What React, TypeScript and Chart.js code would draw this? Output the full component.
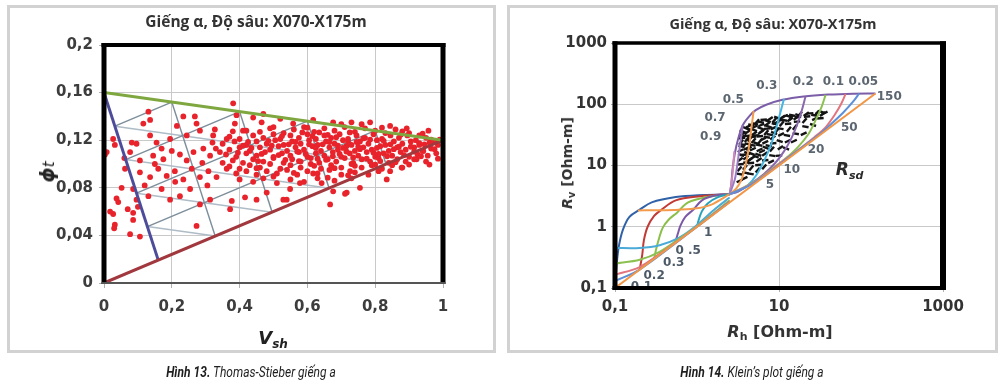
import React, { useEffect, useRef } from "react";
import { Chart, registerables } from "chart.js";

Chart.register(...registerables);

// ---------------- Thomas-Stieber (Hình 13) data ----------------
const tsXTicks = [0, 0.2, 0.4, 0.6, 0.8, 1];
const tsYTicks = [0, 0.04, 0.08, 0.12, 0.16, 0.2];

const laminarLine: [number, number][] = [[0, 0.16], [1, 0.12]];
const structuralLine: [number, number][] = [[0, 0], [1, 0.12]];
const dispersedLine: [number, number][] = [[0, 0.16], [0.16, 0.0192]];

const meshTop: [number, number][] = [[0.2, 0.152], [0.4, 0.144], [0.6, 0.136], [0.8, 0.128]];
const meshLeft: [number, number][] = [[0.032, 0.1318], [0.064, 0.1037], [0.096, 0.0755], [0.128, 0.0474]];
const meshBottom: [number, number][] = [[0.328, 0.0394], [0.496, 0.0595], [0.664, 0.0797], [0.832, 0.0998]];

const sparseSamples: [number, number][] = [
  [0.131, 0.144], [0.381, 0.151], [0.234, 0.14], [0.268, 0.14], [0.273, 0.134], [0.116, 0.134], [0.136, 0.137],
  [0.391, 0.141], [0.386, 0.134], [0.47, 0.142], [0.465, 0.135], [0.003, 0.108], [0.027, 0.121], [0.032, 0.116],
  [0.082, 0.118], [0.096, 0.117], [0.136, 0.124], [0.155, 0.118], [0.195, 0.121], [0.244, 0.124], [0.283, 0.128],
  [0.322, 0.124], [0.362, 0.121], [0.327, 0.129], [0.077, 0.11], [0.106, 0.103], [0.145, 0.107], [0.15, 0.1],
  [0.175, 0.104], [0.2, 0.111], [0.224, 0.108], [0.244, 0.103], [0.264, 0.11], [0.293, 0.113], [0.313, 0.107],
  [0.342, 0.11], [0.062, 0.096], [0.106, 0.093], [0.136, 0.089], [0.16, 0.096], [0.185, 0.09], [0.209, 0.094],
  [0.234, 0.087], [0.259, 0.096], [0.283, 0.089], [0.308, 0.094], [0.332, 0.089], [0.362, 0.096], [0.052, 0.08],
  [0.086, 0.079], [0.096, 0.07], [0.131, 0.073], [0.17, 0.079], [0.195, 0.07], [0.224, 0.073], [0.254, 0.079],
  [0.283, 0.066], [0.313, 0.07], [0.377, 0.069], [0.416, 0.072], [0.45, 0.07], [0.042, 0.068], [0.027, 0.058],
  [0.086, 0.059], [0.032, 0.049], [0.086, 0.053], [0.077, 0.041], [0.106, 0.039], [0.273, 0.048], [0.037, 0.071],
  [0.018, 0.06], [0.03, 0.046], [0.008, 0.11], [0.07, 0.062], [0.1, 0.064], [0.12, 0.082], [0.21, 0.085],
  [0.29, 0.101], [0.17, 0.113], [0.06, 0.105], [0.215, 0.132], [0.32, 0.118], [0.35, 0.101], [0.305, 0.082],
];

const edgeSamples: [number, number][] = [
  [0.667, 0.066], [0.539, 0.07], [0.48, 0.076], [0.372, 0.062], [0.834, 0.087], [0.716, 0.076], [0.755, 0.08],
  [0.676, 0.077], [0.711, 0.075], [0.642, 0.084], [0.617, 0.092], [0.578, 0.084], [0.549, 0.079], [0.529, 0.07],
  [0.922, 0.104], [0.942, 0.111], [0.878, 0.097], [0.844, 0.094], [0.726, 0.094],
  [0.617, 0.137], [0.676, 0.135], [0.73, 0.135], [0.785, 0.135], [0.844, 0.132], [0.893, 0.13], [0.957, 0.128],
  [0.558, 0.134], [0.52, 0.138], [0.5, 0.131], [0.44, 0.139], [0.41, 0.128],
];

const coreSamples: [number, number][] = [
  [0.42, 0.128], [0.46, 0.127], [0.49, 0.13], [0.53, 0.126], [0.56, 0.129], [0.59, 0.131], [0.62, 0.127],
  [0.65, 0.13], [0.68, 0.128], [0.71, 0.131], [0.74, 0.127], [0.77, 0.13], [0.8, 0.128], [0.83, 0.126],
  [0.86, 0.129], [0.9, 0.126], [0.93, 0.124],
  [0.37, 0.123], [0.4, 0.121], [0.44, 0.124], [0.47, 0.122], [0.5, 0.125], [0.52, 0.121], [0.55, 0.124],
  [0.575, 0.122], [0.6, 0.125], [0.625, 0.121], [0.65, 0.124], [0.67, 0.122], [0.695, 0.125], [0.72, 0.121],
  [0.745, 0.124], [0.77, 0.122], [0.795, 0.125], [0.82, 0.121], [0.845, 0.124], [0.87, 0.122], [0.895, 0.124],
  [0.92, 0.12], [0.95, 0.122], [0.975, 0.119],
  [0.35, 0.117], [0.385, 0.119], [0.42, 0.116], [0.45, 0.119], [0.48, 0.117], [0.505, 0.12], [0.53, 0.116],
  [0.555, 0.119], [0.58, 0.117], [0.605, 0.12], [0.63, 0.116], [0.655, 0.119], [0.68, 0.117], [0.705, 0.12],
  [0.73, 0.116], [0.755, 0.119], [0.78, 0.117], [0.805, 0.12], [0.83, 0.116], [0.855, 0.119], [0.88, 0.117],
  [0.905, 0.119], [0.93, 0.116], [0.96, 0.118], [0.985, 0.116],
  [0.33, 0.113], [0.37, 0.112], [0.4, 0.114], [0.43, 0.111], [0.46, 0.114], [0.49, 0.112], [0.515, 0.115],
  [0.54, 0.111], [0.565, 0.114], [0.59, 0.112], [0.615, 0.115], [0.64, 0.111], [0.665, 0.114], [0.69, 0.112],
  [0.715, 0.115], [0.74, 0.111], [0.765, 0.114], [0.79, 0.112], [0.815, 0.115], [0.84, 0.111], [0.865, 0.114],
  [0.89, 0.112], [0.915, 0.114], [0.94, 0.111], [0.965, 0.113],
  [0.36, 0.108], [0.39, 0.106], [0.42, 0.109], [0.45, 0.107], [0.475, 0.11], [0.5, 0.106], [0.525, 0.109],
  [0.55, 0.107], [0.575, 0.11], [0.6, 0.106], [0.625, 0.109], [0.65, 0.107], [0.675, 0.11], [0.7, 0.106],
  [0.725, 0.109], [0.75, 0.107], [0.775, 0.11], [0.8, 0.106], [0.825, 0.109], [0.85, 0.107], [0.875, 0.11],
  [0.9, 0.106], [0.925, 0.108], [0.955, 0.107], [0.98, 0.109],
  [0.38, 0.103], [0.41, 0.101], [0.44, 0.104], [0.47, 0.102], [0.5, 0.105], [0.53, 0.101], [0.555, 0.104],
  [0.58, 0.102], [0.61, 0.105], [0.635, 0.101], [0.66, 0.104], [0.685, 0.102], [0.71, 0.105], [0.735, 0.101],
  [0.76, 0.104], [0.785, 0.102], [0.81, 0.105], [0.84, 0.101], [0.865, 0.104], [0.89, 0.102], [0.915, 0.104],
  [0.95, 0.102],
  [0.37, 0.098], [0.4, 0.096], [0.43, 0.099], [0.46, 0.097], [0.49, 0.1], [0.52, 0.096], [0.55, 0.099],
  [0.58, 0.097], [0.61, 0.1], [0.64, 0.096], [0.67, 0.099], [0.7, 0.097], [0.73, 0.1], [0.76, 0.097],
  [0.79, 0.099], [0.82, 0.096], [0.85, 0.099], [0.88, 0.097],
  [0.39, 0.092], [0.42, 0.094], [0.45, 0.091], [0.48, 0.094], [0.51, 0.092], [0.54, 0.095], [0.57, 0.091],
  [0.6, 0.094], [0.63, 0.092], [0.665, 0.095], [0.7, 0.091], [0.74, 0.093], [0.78, 0.091], [0.81, 0.094],
  [0.4, 0.087], [0.44, 0.085], [0.47, 0.088], [0.51, 0.084], [0.55, 0.087], [0.59, 0.085], [0.63, 0.088],
  [0.68, 0.086], [0.73, 0.088],
  [0.565, 0.1185], [0.595, 0.1085], [0.625, 0.1135], [0.655, 0.1035], [0.685, 0.1225], [0.715, 0.1105],
  [0.745, 0.1185], [0.775, 0.1045], [0.805, 0.1135], [0.835, 0.1065], [0.615, 0.1235], [0.645, 0.1165],
  [0.675, 0.1065], [0.705, 0.1135], [0.735, 0.1055], [0.765, 0.1215], [0.795, 0.1095], [0.825, 0.1195],
  [0.855, 0.1125], [0.885, 0.1075], [0.575, 0.1025], [0.545, 0.1165], [0.515, 0.1075], [0.485, 0.1195],
  [0.455, 0.1025], [0.425, 0.1185], [0.395, 0.1095], [0.915, 0.1105], [0.945, 0.1165], [0.975, 0.1125],
  [0.435, 0.1135], [0.465, 0.1085], [0.495, 0.1155], [0.525, 0.1235], [0.535, 0.1035], [0.585, 0.1265],
  [0.605, 0.1165], [0.635, 0.1265], [0.665, 0.1185], [0.695, 0.1085], [0.725, 0.1265], [0.755, 0.1125],
  [0.785, 0.1205], [0.815, 0.1025], [0.845, 0.1165], [0.875, 0.1245], [0.905, 0.1145], [0.935, 0.1065],
  [0.965, 0.1205], [0.62, 0.0985], [0.68, 0.0965], [0.74, 0.0985], [0.8, 0.0995], [0.86, 0.1015], [0.9, 0.0995],
  [0.56, 0.0925], [0.66, 0.0885], [0.72, 0.0905], [0.5, 0.0895], [0.45, 0.0965], [0.41, 0.1155], [0.38, 0.1275],
  [0.6, 0.1305], [0.7, 0.1335], [0.76, 0.1335], [0.82, 0.1305], [0.88, 0.1275], [0.94, 0.1255], [0.99, 0.1205],
  [0.985, 0.1045], [0.96, 0.0995], [0.57, 0.1105], [0.63, 0.1045], [0.69, 0.1155], [0.75, 0.1145], [0.81, 0.1085],
  [0.87, 0.1145], [0.93, 0.1175], [0.66, 0.1245], [0.72, 0.1185],
];

// ---------------- Klein's plot (Hình 14) data ----------------
const kleinXTicks = [0.1, 10, 1000];
const kleinYTicks = [0.1, 1, 10, 100, 1000];

// [Rh, Rv] pairs, Ohm-m
const isotropicLine: [number, number][] = [[0.1, 0.1], [150, 150]];
const rsd150Curve: [number, number][] = [[2.5, 3.4], [2.62, 5], [2.72, 9], [2.9, 16], [3.15, 26], [3.6, 45], [4.3, 63], [5.2, 80], [7, 98], [11, 118], [20, 134], [40, 144], [80, 149], [150, 150]];
const vsh09Upper: [number, number][] = [[2.85, 17], [2.75, 9], [2.6, 4.5], [2.5, 3.4]];
const vsh07Upper: [number, number][] = [[3.6, 45], [3.4, 25], [3.15, 12], [2.9, 6], [2.5, 3.4]];
const vsh05Upper: [number, number][] = [[4.9, 77], [4.6, 40], [4.3, 20], [3.9, 10], [3.5, 6], [3.0, 4.2], [2.5, 3.4]];
const vsh03Upper: [number, number][] = [[11.5, 122], [10.3, 70], [9.2, 40], [8, 22], [6.6, 12], [5.3, 7], [4.2, 4.8], [3.2, 3.8], [2.5, 3.4]];
const vsh02Upper: [number, number][] = [[21, 133], [19, 80], [16.5, 45], [14, 27], [11.5, 17], [9, 11], [6.5, 7.2], [4.5, 5], [3.2, 3.8], [2.5, 3.4]];
const vsh01Upper: [number, number][] = [[37, 142], [33, 90], [28, 55], [23, 33], [17, 20], [12, 13], [8, 8.6], [5, 5.4], [2.5, 3.4]];
const vsh005Upper: [number, number][] = [[65, 148], [57, 100], [47, 65], [37, 42], [27, 29], [18, 19], [10, 10.6], [5, 5.3], [2.5, 3.4]];
const vsh002Upper: [number, number][] = [[95, 150], [80, 110], [60, 72], [42, 46], [30, 31], [15, 15.5], [5, 5.2], [2.5, 3.4]];

const rsd01Curve: [number, number][] = [[0.1, 0.1], [0.105, 0.25], [0.112, 0.5], [0.125, 0.9], [0.15, 1.45], [0.2, 1.9], [0.28, 2.5], [0.55, 3.05], [1.2, 3.3], [2.5, 3.4]];
const rsd02Curve: [number, number][] = [[0.2, 0.2], [0.215, 0.35], [0.225, 0.6], [0.25, 1.0], [0.3, 1.5], [0.36, 1.85], [0.55, 2.7], [1.1, 3.15], [2.5, 3.4]];
const rsd03Curve: [number, number][] = [[0.3, 0.3], [0.32, 0.45], [0.345, 0.65], [0.38, 0.95], [0.45, 1.3], [0.57, 1.7], [0.78, 2.5], [1.4, 3.1], [2.5, 3.4]];
const rsd05Curve: [number, number][] = [[0.5, 0.5], [0.55, 0.6], [0.58, 0.75], [0.63, 1.05], [0.72, 1.45], [0.9, 1.9], [1.15, 2.7], [1.6, 3.2], [2.5, 3.4]];
const rsd1Curve: [number, number][] = [[1, 1], [1.05, 1.3], [1.15, 1.8], [1.35, 2.4], [1.8, 3.05], [2.5, 3.4]];
const vsh05Lower: [number, number][] = [[0.19, 1.85], [0.35, 1.86], [0.6, 1.9], [1.0, 2.0], [1.5, 2.3], [2.5, 3.4]];
const vsh01Lower: [number, number][] = [[0.1, 0.45], [0.2, 0.45], [0.35, 0.5], [0.6, 0.66], [0.9, 0.95], [1.7, 2.0], [2.5, 3.0]];
const vsh005Lower: [number, number][] = [[0.1, 0.25], [0.2, 0.29], [0.35, 0.39], [0.6, 0.63], [1, 1.03], [2.5, 2.7]];
const vsh002Lower: [number, number][] = [[0.1, 0.165], [0.2, 0.22], [0.4, 0.41], [1, 1.0], [2.5, 2.6]];
const vsh001Lower: [number, number][] = [[0.1, 0.13], [0.2, 0.2], [1, 1], [2.5, 2.55]];

const kleinSamples: [number, number][] = [
  [3.3, 5.6], [3.35, 7.2], [3.3, 8.8], [3.4, 10.5], [3.35, 12.5], [3.45, 14.8], [3.4, 17.5], [3.5, 20.5], [3.45, 24], [3.55, 28], [3.5, 32], [3.6, 36],
  [3.8, 6.2], [3.9, 7.6], [3.85, 9.3], [4.0, 11.2], [3.95, 13.4], [4.1, 16], [4.0, 19], [4.15, 22.5], [4.05, 26.5], [4.2, 30.5], [4.1, 35], [4.25, 39.5], [4.3, 44],
  [4.5, 7.3], [4.6, 9.1], [4.55, 11], [4.7, 13.2], [4.65, 15.5], [4.8, 18.5], [4.75, 21.5], [4.9, 25.5], [4.85, 29.5], [5.0, 33.5], [4.95, 38], [5.05, 43], [5.1, 48],
  [5.5, 8.4], [5.6, 10.2], [5.7, 12.4], [5.6, 15], [5.8, 18], [5.75, 21.5], [5.9, 25], [5.85, 30], [6.0, 35], [5.95, 40.5], [6.1, 46], [6.0, 51],
  [6.6, 9.5], [6.8, 12.2], [6.7, 15.4], [6.9, 19.5], [6.8, 24], [7.1, 29], [7.0, 34.5], [7.2, 40], [7.1, 47], [7.3, 53],
  [8.0, 11.5], [8.3, 14.5], [8.2, 18.5], [8.5, 23], [8.4, 28.5], [8.7, 34], [8.6, 41], [8.9, 48], [8.8, 55],
  [10.0, 14.5], [10.4, 19.5], [10.2, 25], [10.6, 32], [10.4, 40], [10.8, 48], [10.6, 55], [11.0, 61],
  [12.2, 19], [12.8, 25], [12.5, 31], [13.2, 39], [12.9, 48], [13.6, 56], [13.3, 63],
  [15.2, 25], [16, 33], [15.6, 42], [16.6, 52], [16.2, 60], [17.2, 66],
  [20, 33], [21, 43], [20.5, 54], [22, 63], [21.5, 69],
  [26, 46], [27.5, 58], [27, 66], [29, 72],
  [32, 59], [34, 69], [33, 75], [36, 72],
  [4.6, 46], [5.4, 52], [6.5, 56], [7.8, 58], [9.5, 60], [11.8, 64], [14.5, 66], [18, 69], [24, 71], [30, 74],
  [3.9, 41], [3.7, 30], [3.6, 22], [4.4, 27], [5.2, 31], [6.3, 37], [7.6, 43], [9.2, 50], [11.5, 55], [14, 60], [17, 62],
  [4.3, 19], [5.3, 23], [6.4, 27], [7.7, 32], [9.4, 37], [3.7, 15], [4.4, 12.5], [5.2, 14], [6.2, 17], [7.5, 21],
];

const kleinUpperLabels = ["0.3", "0.2", "0.1", "0.05", "0.5", "0.7", "0.9", "150", "50", "20", "10", "5"];
const kleinUpperLabelAt: [number, number][] = [[7.1, 199], [19.8, 233], [46, 233], [107, 233], [2.77, 120], [1.66, 59], [1.47, 28.8], [221, 133], [72, 40.5], [28.3, 17.9], [14.3, 8.45], [7.77, 4.79]];
const kleinLowerLabels = ["1", "0 .5", "0.3", "0.2", "0.1"];
const kleinLowerLabelAt: [number, number][] = [[1.37, 0.8], [0.78, 0.41], [0.52, 0.26], [0.3, 0.157], [0.21, 0.105]];
const rsdLabelAt: [number, number] = [73, 8.2];

// ---------------- helpers ----------------
const toXY = (pts: [number, number][]) => pts.map(([x, y]) => ({ x, y }));

const lineDs = (pts: [number, number][], color: string, width: number, tension = 0) => ({
  data: toXY(pts),
  showLine: true,
  borderColor: color,
  backgroundColor: color,
  borderWidth: width,
  pointRadius: 0,
  pointHoverRadius: 0,
  tension,
});

const commaLabel = (v: number) => String(v).replace(".", ",");

const plotFrame = {
  id: "plotFrame",
  afterDraw(chart: any, _args: any, opts: any) {
    const { ctx, chartArea: a } = chart;
    const l = opts.l, t = opts.t, r = opts.r, b = opts.b;
    ctx.save();
    ctx.fillStyle = opts.color;
    ctx.fillRect(a.left - l / 2, a.top - t / 2, a.right - a.left + l / 2 + r / 2, t);
    ctx.fillRect(a.left - l / 2, a.top - t / 2, l, a.bottom - a.top + t / 2 + b / 2);
    ctx.fillRect(a.right - r / 2, a.top - t / 2, r, a.bottom - a.top + t / 2 + b / 2);
    ctx.fillStyle = opts.bottomColor || opts.color;
    ctx.fillRect(a.left - l / 2, a.bottom - b / 2, a.right - a.left + l / 2 + r / 2, b);
    ctx.restore();
  },
};

const kleinTextPlugin = {
  id: "kleinText",
  afterDatasetsDraw(chart: any) {
    const { ctx, scales } = chart;
    const xs = scales.x, ys = scales.y;
    ctx.save();
    ctx.textAlign = "center";
    ctx.textBaseline = "middle";
    ctx.font = "bold 12px 'DejaVu Sans'";
    ctx.fillStyle = "#5c6670";
    kleinUpperLabels.forEach((t, i) => {
      const [rh, rv] = kleinUpperLabelAt[i];
      ctx.fillText(t, xs.getPixelForValue(rh), ys.getPixelForValue(rv));
    });
    ctx.fillStyle = "#4c5966";
    kleinLowerLabels.forEach((t, i) => {
      const [rh, rv] = kleinLowerLabelAt[i];
      ctx.fillText(t, xs.getPixelForValue(rh), ys.getPixelForValue(rv));
    });
    const px = xs.getPixelForValue(rsdLabelAt[0]);
    const py = ys.getPixelForValue(rsdLabelAt[1]);
    ctx.fillStyle = "#2b2b2b";
    ctx.textAlign = "left";
    ctx.font = "italic bold 17px 'DejaVu Sans'";
    const w = ctx.measureText("R").width;
    ctx.fillText("R", px - 14, py);
    ctx.font = "italic bold 11px 'DejaVu Sans'";
    ctx.fillText("sd", px - 14 + w, py + 5);
    ctx.restore();
  },
};

const tickFont = { family: "'DejaVu Sans'", size: 15, weight: "bold" as const };
const dashAngles = [-25, 10, -50, -5, -35, 20];

function ThomasStieberChart() {
  const ref = useRef<HTMLCanvasElement>(null);
  useEffect(() => {
    const meshDark: [number, number][][] = [];
    meshTop.forEach((p, i) => {
      meshDark.push([p, meshLeft[i]]);
      meshDark.push([p, meshBottom[i]]);
    });
    const meshLight: [number, number][][] = meshLeft.map((p, i) => [p, meshBottom[meshBottom.length - 1 - i]]);
    const samples = [...sparseSamples, ...edgeSamples, ...coreSamples];
    const datasets: any[] = [
      lineDs(laminarLine, "#7ea73f", 3),
      lineDs(structuralLine, "#a1383e", 3),
      lineDs(dispersedLine, "#4d4c9b", 3),
      {
        data: toXY(samples),
        showLine: false,
        pointRadius: 2.9,
        pointHoverRadius: 2.9,
        backgroundColor: "#e8232b",
        borderWidth: 0,
      },
      ...meshDark.map((s) => lineDs(s, "#7d8e9b", 1.5)),
      ...meshLight.map((s) => lineDs(s, "#aebcc7", 1.5)),
    ];
    const chart = new Chart(ref.current as HTMLCanvasElement, {
      type: "scatter",
      data: { datasets },
      options: {
        animation: false,
        responsive: false,
        events: [],
        layout: { padding: { left: 44, top: 45, right: 57, bottom: 37 } },
        plugins: {
          legend: { display: false },
          tooltip: { enabled: false },
          title: { display: false },
          plotFrame: { color: "#000", bottomColor: "#555", l: 5, t: 4, r: 5, b: 2 },
        } as any,
        scales: {
          x: {
            type: "linear",
            min: 0,
            max: 1,
            afterBuildTicks: (s: any) => { s.ticks = tsXTicks.map((v) => ({ value: v })); },
            afterFit: (s: any) => { s.height = 30; },
            ticks: { callback: (v: any) => commaLabel(Number(v)), font: tickFont, color: "#3d3d3d", padding: 10, maxRotation: 0, autoSkip: false },
            grid: { color: "#c9c9c9", lineWidth: 1, tickLength: 5, tickColor: "#b0b0b0" },
            border: { display: false },
          },
          y: {
            type: "linear",
            min: 0,
            max: 0.2,
            afterBuildTicks: (s: any) => { s.ticks = tsYTicks.map((v) => ({ value: v })); },
            afterFit: (s: any) => { s.width = 60; },
            ticks: { callback: (v: any) => commaLabel(Number(v)), font: tickFont, color: "#3d3d3d", padding: 6, autoSkip: false },
            grid: { color: "#c9c9c9", lineWidth: 1, tickLength: 5, tickColor: "#b0b0b0" },
            border: { display: false },
          },
        },
      },
      plugins: [plotFrame],
    } as any);
    return () => chart.destroy();
  }, []);
  return <canvas ref={ref} width={500} height={350} style={{ position: "absolute", left: 0, top: 0, width: 500, height: 350 }} />;
}

function KleinChart() {
  const ref = useRef<HTMLCanvasElement>(null);
  useEffect(() => {
    const datasets: any[] = [
      lineDs(isotropicLine, "#f29544", 2),
      lineDs(vsh002Upper, "#5d8fd8", 2, 0.3),
      lineDs(vsh005Upper, "#e2747f", 2, 0.3),
      lineDs(vsh01Upper, "#8cc152", 2, 0.3),
      lineDs(vsh02Upper, "#8a68b0", 2, 0.3),
      lineDs(vsh03Upper, "#43b6e2", 2, 0.3),
      lineDs(vsh05Upper, "#f39a4c", 2, 0.3),
      lineDs(vsh07Upper, "#9b7cc4", 2, 0.3),
      lineDs(vsh09Upper, "#d08ab8", 2, 0.3),
      lineDs(rsd150Curve, "#7b5ea7", 2, 0.35),
      lineDs(vsh001Lower, "#5d8fd8", 2, 0.3),
      lineDs(vsh002Lower, "#e2747f", 2, 0.3),
      lineDs(vsh005Lower, "#8cc152", 2, 0.3),
      lineDs(vsh01Lower, "#4aaad8", 2, 0.3),
      lineDs(vsh05Lower, "#f39a4c", 2, 0.3),
      lineDs(rsd1Curve, "#28a2b8", 2, 0.35),
      lineDs(rsd05Curve, "#7a5aa5", 2, 0.35),
      lineDs(rsd03Curve, "#8bbf4a", 2, 0.35),
      lineDs(rsd02Curve, "#c23a35", 2, 0.35),
      lineDs(rsd01Curve, "#2f62a8", 2, 0.35),
      {
        data: toXY(kleinSamples),
        showLine: false,
        pointStyle: "line",
        rotation: (c: any) => dashAngles[c.dataIndex % dashAngles.length],
        pointRadius: 3.2,
        pointHoverRadius: 3.2,
        borderColor: "#141414",
        backgroundColor: "#141414",
        borderWidth: 2.4,
      },
    ];
    const chart = new Chart(ref.current as HTMLCanvasElement, {
      type: "scatter",
      data: { datasets },
      options: {
        animation: false,
        responsive: false,
        events: [],
        layout: { padding: { left: 55, top: 43, right: 57, bottom: 32 } },
        plugins: {
          legend: { display: false },
          tooltip: { enabled: false },
          title: { display: false },
          plotFrame: { color: "#000", l: 5, t: 3.5, r: 6, b: 4 },
        } as any,
        scales: {
          x: {
            type: "logarithmic",
            min: 0.1,
            max: 1000,
            afterBuildTicks: (s: any) => { s.ticks = kleinXTicks.map((v) => ({ value: v })); },
            afterFit: (s: any) => { s.height = 30; },
            ticks: { callback: (v: any) => commaLabel(Number(v)), font: tickFont, color: "#333", padding: 6, maxRotation: 0, autoSkip: false },
            grid: { color: "#c9c9c9", lineWidth: 1, tickLength: 4, tickColor: "#b0b0b0" },
            border: { display: false },
          },
          y: {
            type: "logarithmic",
            min: 0.1,
            max: 1000,
            afterBuildTicks: (s: any) => { s.ticks = kleinYTicks.map((v) => ({ value: v })); },
            afterFit: (s: any) => { s.width = 60; },
            ticks: { callback: (v: any) => commaLabel(Number(v)), font: tickFont, color: "#333", padding: 4, autoSkip: false },
            grid: { color: "#c9c9c9", lineWidth: 1, tickLength: 4, tickColor: "#b0b0b0" },
            border: { display: false },
          },
        },
      },
      plugins: [kleinTextPlugin, plotFrame],
    } as any);
    return () => chart.destroy();
  }, []);
  return <canvas ref={ref} width={500} height={350} style={{ position: "absolute", left: 500, top: 0, width: 500, height: 350 }} />;
}

const at = (cx: number, cy: number, extra = ""): React.CSSProperties => ({
  position: "absolute",
  left: cx,
  top: cy,
  transform: `translate(-50%, -50%) ${extra}`,
  whiteSpace: "nowrap",
  lineHeight: 1,
});

const titleFont = "'Open Sans', 'DejaVu Sans', sans-serif";

export default function App() {
  return (
    <div style={{ position: "absolute", left: 0, top: 0, width: 1000, height: 385, background: "#fff", overflow: "hidden" }}>
      <div style={{ position: "absolute", left: 7, top: 5, width: 489, height: 348, border: "3px solid #d2d2d2", boxSizing: "border-box" }} />
      <div style={{ position: "absolute", left: 507, top: 5, width: 491, height: 348, border: "3px solid #d2d2d2", boxSizing: "border-box" }} />
      <ThomasStieberChart />
      <KleinChart />

      <div style={{ ...at(256, 21), font: `bold 15.5px ${titleFont}`, color: "#333" }}>Giếng α, Độ sâu: X070-X175m</div>
      <div style={{ ...at(773, 23), font: `bold 14.5px ${titleFont}`, color: "#333" }}>Giếng α, Độ sâu: X070-X175m</div>

      <div style={{ ...at(47, 172, "rotate(-90deg)"), font: "italic bold 19px 'DejaVu Sans'", color: "#222" }}>
        ϕ<span style={{ fontSize: 15, fontWeight: "normal" }}>t</span>
      </div>
      <div style={{ ...at(273, 337), font: "italic bold 18px 'DejaVu Sans'", color: "#222" }}>
        V<span style={{ fontSize: 12, position: "relative", top: 4 }}>sh</span>
      </div>

      <div style={{ ...at(567, 163, "rotate(-90deg)"), font: "bold 14px 'DejaVu Sans'", color: "#333" }}>
        <i>R</i><span style={{ fontSize: 10, position: "relative", top: 3 }}>v</span> [Ohm-m]
      </div>
      <div style={{ ...at(780, 331), font: "bold 16px 'DejaVu Sans'", color: "#333" }}>
        <i>R</i><span style={{ fontSize: 11, position: "relative", top: 3 }}>h</span> [Ohm-m]
      </div>

      <div style={{ ...at(251, 372, "scaleX(0.8)"), font: "italic 15px Roboto, 'DejaVu Sans', sans-serif", color: "#1e1e1e" }}>
        <b>Hình 13.</b> Thomas-Stieber giếng a
      </div>
      <div style={{ ...at(752, 372, "scaleX(0.8)"), font: "italic 15px Roboto, 'DejaVu Sans', sans-serif", color: "#1e1e1e" }}>
        <b>Hình 14.</b> Klein’s plot giếng a
      </div>
    </div>
  );
}
